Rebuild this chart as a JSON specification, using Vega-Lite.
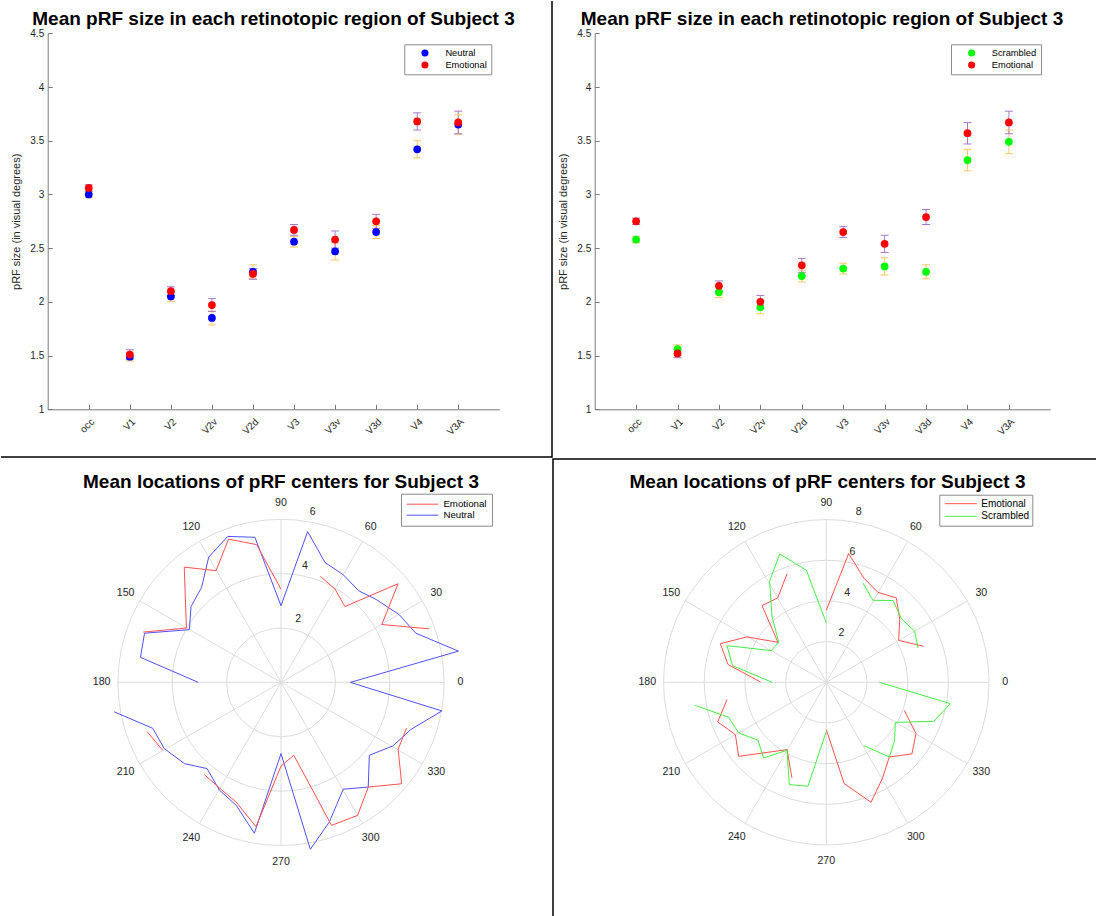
{
  "padding": 0,
  "spacing": 0,
  "config": {
    "font": "Liberation Sans",
    "view": {"stroke": null},
    "title": {"fontSize": 19, "fontWeight": "bold", "color": "black", "anchor": "middle", "frame": "group", "baseline": "alphabetic"},
    "axis": {"labelFontSize": 10, "titleFontSize": 11, "titleFontWeight": "normal", "labelColor": "#262626", "titleColor": "#262626", "domainColor": "#7a7a7a", "tickColor": "#7a7a7a", "grid": false, "labelFlush": false, "labelOverlap": false},
    "legend": {"strokeColor": "#8c8c8c", "fillColor": "white", "labelColor": "black"}
  },
  "vconcat": [
    {
      "spacing": 0,
      "resolve": {"scale": {"color": "independent"}},
      "hconcat": [
        {
          "width": 551,
          "height": 456,
          "view": {"stroke": "black", "strokeWidth": 1.5, "strokeDash": [1007, 1007], "strokeDashOffset": 1463},
          "title": {"text": "Mean pRF size in each retinotopic region of Subject 3", "offset": -28, "dx": -3},
          "data": {"values": [
            {"region": "occ", "group": "Neutral", "mean": 3.00, "lo": 2.97, "hi": 3.03},
            {"region": "V1", "group": "Neutral", "mean": 1.49, "lo": 1.45, "hi": 1.53},
            {"region": "V2", "group": "Neutral", "mean": 2.05, "lo": 2.005, "hi": 2.095},
            {"region": "V2v", "group": "Neutral", "mean": 1.85, "lo": 1.785, "hi": 1.915},
            {"region": "V2d", "group": "Neutral", "mean": 2.28, "lo": 2.215, "hi": 2.345},
            {"region": "V3", "group": "Neutral", "mean": 2.56, "lo": 2.51, "hi": 2.61},
            {"region": "V3v", "group": "Neutral", "mean": 2.47, "lo": 2.39, "hi": 2.55},
            {"region": "V3d", "group": "Neutral", "mean": 2.65, "lo": 2.59, "hi": 2.71},
            {"region": "V4", "group": "Neutral", "mean": 3.42, "lo": 3.34, "hi": 3.50},
            {"region": "V3A", "group": "Neutral", "mean": 3.65, "lo": 3.56, "hi": 3.74},
            {"region": "occ", "group": "Emotional", "mean": 3.06, "lo": 3.03, "hi": 3.09},
            {"region": "V1", "group": "Emotional", "mean": 1.51, "lo": 1.465, "hi": 1.555},
            {"region": "V2", "group": "Emotional", "mean": 2.10, "lo": 2.06, "hi": 2.14},
            {"region": "V2v", "group": "Emotional", "mean": 1.97, "lo": 1.91, "hi": 2.03},
            {"region": "V2d", "group": "Emotional", "mean": 2.26, "lo": 2.21, "hi": 2.31},
            {"region": "V3", "group": "Emotional", "mean": 2.67, "lo": 2.62, "hi": 2.72},
            {"region": "V3v", "group": "Emotional", "mean": 2.58, "lo": 2.50, "hi": 2.66},
            {"region": "V3d", "group": "Emotional", "mean": 2.75, "lo": 2.685, "hi": 2.815},
            {"region": "V4", "group": "Emotional", "mean": 3.68, "lo": 3.60, "hi": 3.76},
            {"region": "V3A", "group": "Emotional", "mean": 3.67, "lo": 3.565, "hi": 3.775}
          ]},
          "layer": [
            {"transform": [{"filter": {"field": "group", "equal": "Neutral"}}],
             "mark": {"type": "rule", "strokeWidth": 1, "color": "#F5C864"},
             "encoding": {
               "x": {"field": "region", "type": "ordinal",
                 "scale": {"type": "point", "domain": ["occ", "V1", "V2", "V2v", "V2d", "V3", "V3v", "V3d", "V4", "V3A"], "range": [46.7, 498.3], "padding": 1},
                 "axis": {"offset": -47.7, "title": null, "labelAngle": -45, "labelAlign": "right", "labelBaseline": "top", "ticks": false, "labelPadding": 7}},
               "y": {"field": "lo", "type": "quantitative", "title": "pRF size (in visual degrees)",
                 "scale": {"domain": [1, 4.5], "range": [408.3, 32.3], "nice": false, "zero": false},
                 "axis": {"offset": -46.7, "values": [1, 1.5, 2, 2.5, 3, 3.5, 4, 4.5], "format": "~g", "ticks": false, "labelPadding": 4, "titlePadding": 8}},
               "y2": {"field": "hi"}}},
            {"transform": [{"filter": {"field": "group", "equal": "Emotional"}}],
             "mark": {"type": "rule", "strokeWidth": 1, "color": "#AA78C8"},
             "encoding": {
               "x": {"field": "region", "type": "ordinal", "axis": null},
               "y": {"field": "lo", "type": "quantitative", "axis": null},
               "y2": {"field": "hi"}}},
            {"transform": [{"filter": {"field": "group", "equal": "Neutral"}}],
             "mark": {"type": "tick", "size": 8, "thickness": 1, "opacity": 1, "color": "#F5C864"},
             "encoding": {
               "x": {"field": "region", "type": "ordinal", "axis": null},
               "y": {"field": "lo", "type": "quantitative", "axis": null}}},
            {"transform": [{"filter": {"field": "group", "equal": "Neutral"}}],
             "mark": {"type": "tick", "size": 8, "thickness": 1, "opacity": 1, "color": "#F5C864"},
             "encoding": {
               "x": {"field": "region", "type": "ordinal", "axis": null},
               "y": {"field": "hi", "type": "quantitative", "axis": null}}},
            {"transform": [{"filter": {"field": "group", "equal": "Emotional"}}],
             "mark": {"type": "tick", "size": 8, "thickness": 1, "opacity": 1, "color": "#AA78C8"},
             "encoding": {
               "x": {"field": "region", "type": "ordinal", "axis": null},
               "y": {"field": "lo", "type": "quantitative", "axis": null}}},
            {"transform": [{"filter": {"field": "group", "equal": "Emotional"}}],
             "mark": {"type": "tick", "size": 8, "thickness": 1, "opacity": 1, "color": "#AA78C8"},
             "encoding": {
               "x": {"field": "region", "type": "ordinal", "axis": null},
               "y": {"field": "hi", "type": "quantitative", "axis": null}}},
            {"mark": {"type": "point", "filled": true, "size": 60, "opacity": 1},
             "encoding": {
               "x": {"field": "region", "type": "ordinal",
                 "axis": {"orient": "top", "offset": -408.3, "title": null, "labels": false, "domain": false, "ticks": true, "tickSize": 5}},
               "y": {"field": "mean", "type": "quantitative",
                 "axis": {"orient": "right", "offset": -504.3, "title": null, "labels": false, "domain": false, "ticks": true, "tickSize": 4.5, "values": [1, 1.5, 2, 2.5, 3, 3.5, 4, 4.5]}},
               "color": {"field": "group", "type": "nominal", "scale": {"domain": ["Neutral", "Emotional"], "range": ["#0000FF", "#FF0000"]},
                 "legend": {"title": null, "orient": "none", "legendX": 403.3, "legendY": 43.3, "padding": 4, "symbolType": "circle", "symbolSize": 50, "symbolOffset": 12, "labelOffset": 15.8, "rowPadding": 2, "labelFontSize": 9.3}}}}
          ],
          "resolve": {"axis": {"x": "independent", "y": "independent"}}
        },
        {
          "width": 545,
          "height": 456,
          "title": {"text": "Mean pRF size in each retinotopic region of Subject 3", "offset": -28, "dx": -3.5},
          "data": {"values": [
            {"region": "occ", "group": "Scrambled", "mean": 2.58, "lo": 2.55, "hi": 2.61},
            {"region": "V1", "group": "Scrambled", "mean": 1.56, "lo": 1.52, "hi": 1.60},
            {"region": "V2", "group": "Scrambled", "mean": 2.09, "lo": 2.04, "hi": 2.14},
            {"region": "V2v", "group": "Scrambled", "mean": 1.95, "lo": 1.89, "hi": 2.01},
            {"region": "V2d", "group": "Scrambled", "mean": 2.24, "lo": 2.185, "hi": 2.295},
            {"region": "V3", "group": "Scrambled", "mean": 2.31, "lo": 2.26, "hi": 2.36},
            {"region": "V3v", "group": "Scrambled", "mean": 2.33, "lo": 2.25, "hi": 2.41},
            {"region": "V3d", "group": "Scrambled", "mean": 2.28, "lo": 2.215, "hi": 2.345},
            {"region": "V4", "group": "Scrambled", "mean": 3.32, "lo": 3.22, "hi": 3.42},
            {"region": "V3A", "group": "Scrambled", "mean": 3.49, "lo": 3.38, "hi": 3.60},
            {"region": "occ", "group": "Emotional", "mean": 2.75, "lo": 2.72, "hi": 2.78},
            {"region": "V1", "group": "Emotional", "mean": 1.52, "lo": 1.48, "hi": 1.56},
            {"region": "V2", "group": "Emotional", "mean": 2.15, "lo": 2.105, "hi": 2.195},
            {"region": "V2v", "group": "Emotional", "mean": 2.00, "lo": 1.94, "hi": 2.06},
            {"region": "V2d", "group": "Emotional", "mean": 2.34, "lo": 2.275, "hi": 2.405},
            {"region": "V3", "group": "Emotional", "mean": 2.65, "lo": 2.60, "hi": 2.70},
            {"region": "V3v", "group": "Emotional", "mean": 2.54, "lo": 2.46, "hi": 2.62},
            {"region": "V3d", "group": "Emotional", "mean": 2.79, "lo": 2.72, "hi": 2.86},
            {"region": "V4", "group": "Emotional", "mean": 3.57, "lo": 3.47, "hi": 3.67},
            {"region": "V3A", "group": "Emotional", "mean": 3.67, "lo": 3.565, "hi": 3.775}
          ]},
          "layer": [
            {"transform": [{"filter": {"field": "group", "equal": "Scrambled"}}],
             "mark": {"type": "rule", "strokeWidth": 1, "color": "#F5C864"},
             "encoding": {
               "x": {"field": "region", "type": "ordinal",
                 "scale": {"type": "point", "domain": ["occ", "V1", "V2", "V2v", "V2d", "V3", "V3v", "V3d", "V4", "V3A"], "range": [41.7, 497.3], "padding": 1},
                 "axis": {"offset": -47.7, "title": null, "labelAngle": -45, "labelAlign": "right", "labelBaseline": "top", "ticks": false, "labelPadding": 7}},
               "y": {"field": "lo", "type": "quantitative", "title": "pRF size (in visual degrees)",
                 "scale": {"domain": [1, 4.5], "range": [408.3, 32.3], "nice": false, "zero": false},
                 "axis": {"offset": -41.7, "values": [1, 1.5, 2, 2.5, 3, 3.5, 4, 4.5], "format": "~g", "ticks": false, "labelPadding": 4, "titlePadding": 8}},
               "y2": {"field": "hi"}}},
            {"transform": [{"filter": {"field": "group", "equal": "Emotional"}}],
             "mark": {"type": "rule", "strokeWidth": 1, "color": "#AA78C8"},
             "encoding": {
               "x": {"field": "region", "type": "ordinal", "axis": null},
               "y": {"field": "lo", "type": "quantitative", "axis": null},
               "y2": {"field": "hi"}}},
            {"transform": [{"filter": {"field": "group", "equal": "Scrambled"}}],
             "mark": {"type": "tick", "size": 8, "thickness": 1, "opacity": 1, "color": "#F5C864"},
             "encoding": {
               "x": {"field": "region", "type": "ordinal", "axis": null},
               "y": {"field": "lo", "type": "quantitative", "axis": null}}},
            {"transform": [{"filter": {"field": "group", "equal": "Scrambled"}}],
             "mark": {"type": "tick", "size": 8, "thickness": 1, "opacity": 1, "color": "#F5C864"},
             "encoding": {
               "x": {"field": "region", "type": "ordinal", "axis": null},
               "y": {"field": "hi", "type": "quantitative", "axis": null}}},
            {"transform": [{"filter": {"field": "group", "equal": "Emotional"}}],
             "mark": {"type": "tick", "size": 8, "thickness": 1, "opacity": 1, "color": "#AA78C8"},
             "encoding": {
               "x": {"field": "region", "type": "ordinal", "axis": null},
               "y": {"field": "lo", "type": "quantitative", "axis": null}}},
            {"transform": [{"filter": {"field": "group", "equal": "Emotional"}}],
             "mark": {"type": "tick", "size": 8, "thickness": 1, "opacity": 1, "color": "#AA78C8"},
             "encoding": {
               "x": {"field": "region", "type": "ordinal", "axis": null},
               "y": {"field": "hi", "type": "quantitative", "axis": null}}},
            {"mark": {"type": "point", "filled": true, "size": 60, "opacity": 1},
             "encoding": {
               "x": {"field": "region", "type": "ordinal",
                 "axis": {"orient": "top", "offset": -408.3, "title": null, "labels": false, "domain": false, "ticks": true, "tickSize": 5}},
               "y": {"field": "mean", "type": "quantitative",
                 "axis": {"orient": "right", "offset": -503.3, "title": null, "labels": false, "domain": false, "ticks": true, "tickSize": 4.5, "values": [1, 1.5, 2, 2.5, 3, 3.5, 4, 4.5]}},
               "color": {"field": "group", "type": "nominal", "scale": {"domain": ["Scrambled", "Emotional"], "range": ["#00FF00", "#FF0000"]},
                 "legend": {"title": null, "orient": "none", "legendX": 398, "legendY": 43.3, "padding": 4, "symbolType": "circle", "symbolSize": 50, "symbolOffset": 12, "labelOffset": 15.4, "rowPadding": 2, "labelFontSize": 9.3}}}}
          ],
          "resolve": {"axis": {"x": "independent", "y": "independent"}}
        }
      ]
    },
    {
      "spacing": 0,
      "resolve": {"scale": {"color": "independent", "size": "independent"}},
      "hconcat": [
        {
          "width": 551,
          "height": 460,
          "title": {"text": "Mean locations of pRF centers for Subject 3", "offset": -33, "dx": 4.5},
          "layer": [
            {"data": {"values": [{"cx": 0, "cy": 0, "r": 2}, {"cx": 0, "cy": 0, "r": 4}, {"cx": 0, "cy": 0, "r": 6}]},
             "mark": {"type": "point", "filled": false, "color": "#dddddd", "strokeWidth": 1, "opacity": 1},
             "encoding": {
               "x": {"field": "cx", "type": "quantitative", "scale": {"domain": [-10.302, 9.971], "nice": false, "zero": false}, "axis": null},
               "y": {"field": "cy", "type": "quantitative", "scale": {"domain": [-8.705, 8.219], "nice": false, "zero": false}, "axis": null},
               "size": {"field": "r", "type": "quantitative", "scale": {"type": "pow", "exponent": 2, "domain": [0, 6], "range": [0, 106391]}, "legend": null}}},
            {"data": {"values": [
              {"x1": -6, "y1": 0, "x2": 6, "y2": 0},
              {"x1": -5.196, "y1": -3, "x2": 5.196, "y2": 3},
              {"x1": -3, "y1": -5.196, "x2": 3, "y2": 5.196},
              {"x1": 0, "y1": -6, "x2": 0, "y2": 6},
              {"x1": 3, "y1": -5.196, "x2": -3, "y2": 5.196},
              {"x1": 5.196, "y1": -3, "x2": -5.196, "y2": 3}
             ]},
             "mark": {"type": "rule", "color": "#dddddd", "strokeWidth": 1},
             "encoding": {
               "x": {"field": "x1", "type": "quantitative", "axis": null},
               "y": {"field": "y1", "type": "quantitative", "axis": null},
               "x2": {"field": "x2"},
               "y2": {"field": "y2"}}},
            {"data": {"values": [
              {"label": "0", "x": 6.6, "y": 0},
              {"label": "30", "x": 5.716, "y": 3.3},
              {"label": "60", "x": 3.3, "y": 5.716},
              {"label": "90", "x": 0, "y": 6.6},
              {"label": "120", "x": -3.3, "y": 5.716},
              {"label": "150", "x": -5.716, "y": 3.3},
              {"label": "180", "x": -6.6, "y": 0},
              {"label": "210", "x": -5.716, "y": -3.3},
              {"label": "240", "x": -3.3, "y": -5.716},
              {"label": "270", "x": 0, "y": -6.6},
              {"label": "300", "x": 3.3, "y": -5.716},
              {"label": "330", "x": 5.716, "y": -3.3},
              {"label": "2", "x": 0.63, "y": 2.32},
              {"label": "4", "x": 0.88, "y": 4.29},
              {"label": "6", "x": 1.17, "y": 6.27}
             ]},
             "mark": {"type": "text", "fontSize": 10.6, "color": "#262626", "align": "center", "baseline": "middle"},
             "encoding": {
               "x": {"field": "x", "type": "quantitative", "axis": null},
               "y": {"field": "y", "type": "quantitative", "axis": null},
               "text": {"field": "label", "type": "nominal"}}},
            {"data": {"values": [
              {"series": "Neutral", "seg": "N1", "i": 0, "x": -3.04, "y": 0},
              {"series": "Neutral", "seg": "N1", "i": 1, "x": -5.17, "y": 0.92},
              {"series": "Neutral", "seg": "N1", "i": 2, "x": -5.02, "y": 1.81},
              {"series": "Neutral", "seg": "N1", "i": 3, "x": -3.37, "y": 1.94},
              {"series": "Neutral", "seg": "N1", "i": 4, "x": -3.31, "y": 2.79},
              {"series": "Neutral", "seg": "N1", "i": 5, "x": -2.92, "y": 3.50},
              {"series": "Neutral", "seg": "N1", "i": 6, "x": -2.66, "y": 4.61},
              {"series": "Neutral", "seg": "N1", "i": 7, "x": -1.96, "y": 5.37},
              {"series": "Neutral", "seg": "N1", "i": 8, "x": -0.96, "y": 5.34},
              {"series": "Neutral", "seg": "N1", "i": 9, "x": 0, "y": 2.82},
              {"series": "Neutral", "seg": "N1", "i": 10, "x": 0.98, "y": 5.55},
              {"series": "Neutral", "seg": "N1", "i": 11, "x": 1.62, "y": 4.41},
              {"series": "Neutral", "seg": "N1", "i": 12, "x": 2.29, "y": 3.96},
              {"series": "Neutral", "seg": "N1", "i": 13, "x": 2.86, "y": 3.37},
              {"series": "Neutral", "seg": "N1", "i": 14, "x": 3.52, "y": 3.04},
              {"series": "Neutral", "seg": "N1", "i": 15, "x": 4.35, "y": 2.49},
              {"series": "Neutral", "seg": "N1", "i": 16, "x": 4.96, "y": 1.81},
              {"series": "Neutral", "seg": "N1", "i": 17, "x": 6.53, "y": 1.15},
              {"series": "Neutral", "seg": "N1", "i": 18, "x": 2.55, "y": 0},
              {"series": "Neutral", "seg": "N1", "i": 19, "x": 5.92, "y": -1.05},
              {"series": "Neutral", "seg": "N1", "i": 20, "x": 4.78, "y": -1.73},
              {"series": "Neutral", "seg": "N1", "i": 21, "x": 4.11, "y": -2.34},
              {"series": "Neutral", "seg": "N1", "i": 22, "x": 3.25, "y": -2.68},
              {"series": "Neutral", "seg": "N1", "i": 23, "x": 3.21, "y": -3.85},
              {"series": "Neutral", "seg": "N1", "i": 24, "x": 2.29, "y": -3.93},
              {"series": "Neutral", "seg": "N1", "i": 25, "x": 1.78, "y": -5.13},
              {"series": "Neutral", "seg": "N1", "i": 26, "x": 1.08, "y": -6.14},
              {"series": "Neutral", "seg": "N1", "i": 27, "x": 0, "y": -2.62},
              {"series": "Neutral", "seg": "N1", "i": 28, "x": -0.98, "y": -5.55},
              {"series": "Neutral", "seg": "N1", "i": 29, "x": -1.65, "y": -4.52},
              {"series": "Neutral", "seg": "N1", "i": 30, "x": -2.27, "y": -3.96},
              {"series": "Neutral", "seg": "N1", "i": 31, "x": -2.72, "y": -3.17},
              {"series": "Neutral", "seg": "N1", "i": 32, "x": -3.55, "y": -2.99},
              {"series": "Neutral", "seg": "N1", "i": 33, "x": -4.29, "y": -2.44},
              {"series": "Neutral", "seg": "N1", "i": 34, "x": -4.72, "y": -1.69},
              {"series": "Neutral", "seg": "N1", "i": 35, "x": -6.14, "y": -1.08},
              {"series": "Emotional", "seg": "E1", "i": 0, "x": 0, "y": 3.43},
              {"series": "Emotional", "seg": "E1", "i": 1, "x": -0.9, "y": 5.07},
              {"series": "Emotional", "seg": "E1", "i": 2, "x": -1.93, "y": 5.27},
              {"series": "Emotional", "seg": "E1", "i": 3, "x": -2.39, "y": 4.11},
              {"series": "Emotional", "seg": "E1", "i": 4, "x": -3.56, "y": 4.24},
              {"series": "Emotional", "seg": "E1", "i": 5, "x": -3.48, "y": 2.00},
              {"series": "Emotional", "seg": "E1", "i": 6, "x": -5.07, "y": 1.85},
              {"series": "Emotional", "seg": "E2", "i": 0, "x": 1.45, "y": 3.90},
              {"series": "Emotional", "seg": "E2", "i": 1, "x": 1.99, "y": 3.43},
              {"series": "Emotional", "seg": "E2", "i": 2, "x": 2.35, "y": 2.79},
              {"series": "Emotional", "seg": "E2", "i": 3, "x": 4.31, "y": 3.63},
              {"series": "Emotional", "seg": "E2", "i": 4, "x": 3.71, "y": 2.13},
              {"series": "Emotional", "seg": "E2", "i": 5, "x": 5.45, "y": 1.97},
              {"series": "Emotional", "seg": "E3", "i": 0, "x": -4.93, "y": -1.81},
              {"series": "Emotional", "seg": "E3", "i": 1, "x": -4.35, "y": -2.50},
              {"series": "Emotional", "seg": "E4", "i": 0, "x": -2.82, "y": -3.39},
              {"series": "Emotional", "seg": "E4", "i": 1, "x": -2.27, "y": -3.88},
              {"series": "Emotional", "seg": "E4", "i": 2, "x": -1.65, "y": -4.40},
              {"series": "Emotional", "seg": "E4", "i": 3, "x": -0.92, "y": -5.31},
              {"series": "Emotional", "seg": "E4", "i": 4, "x": 0, "y": -3.08},
              {"series": "Emotional", "seg": "E4", "i": 5, "x": 0.47, "y": -2.68},
              {"series": "Emotional", "seg": "E4", "i": 6, "x": 1.86, "y": -5.26},
              {"series": "Emotional", "seg": "E4", "i": 7, "x": 2.82, "y": -4.89},
              {"series": "Emotional", "seg": "E4", "i": 8, "x": 3.21, "y": -3.85},
              {"series": "Emotional", "seg": "E4", "i": 9, "x": 4.44, "y": -3.73},
              {"series": "Emotional", "seg": "E4", "i": 10, "x": 4.31, "y": -2.46},
              {"series": "Emotional", "seg": "E4", "i": 11, "x": 4.62, "y": -1.68}
             ]},
             "mark": {"type": "line", "strokeWidth": 1},
             "encoding": {
               "x": {"field": "x", "type": "quantitative", "axis": null},
               "y": {"field": "y", "type": "quantitative", "axis": null},
               "detail": {"field": "seg", "type": "nominal"},
               "order": {"field": "i", "type": "quantitative"},
               "color": {"field": "series", "type": "nominal", "scale": {"domain": ["Emotional", "Neutral"], "range": ["#ff5050", "#5050ff"]},
                 "legend": {"title": null, "orient": "none", "legendX": 400, "legendY": 34.7, "padding": 5, "symbolType": "stroke", "symbolSize": 1000, "symbolStrokeWidth": 1, "symbolOffset": 0, "labelOffset": 4.4, "clipHeight": 11, "rowPadding": 0, "labelFontSize": 9.7}}}}
          ]
        },
        {
          "width": 545,
          "height": 460,
          "view": {"stroke": "black", "strokeWidth": 1.5, "strokeDash": [1005, 1005], "strokeDashOffset": 460},
          "title": {"text": "Mean locations of pRF centers for Subject 3", "offset": -33, "dx": 2},
          "layer": [
            {"data": {"values": [{"cx": 0, "cy": 0, "r": 2}, {"cx": 0, "cy": 0, "r": 4}, {"cx": 0, "cy": 0, "r": 6}, {"cx": 0, "cy": 0, "r": 8}]},
             "mark": {"type": "point", "filled": false, "color": "#dddddd", "strokeWidth": 1, "opacity": 1},
             "encoding": {
               "x": {"field": "cx", "type": "quantitative", "scale": {"domain": [-13.437, 13.358], "nice": false, "zero": false}, "axis": null},
               "y": {"field": "cy", "type": "quantitative", "scale": {"domain": [-11.637, 10.978], "nice": false, "zero": false}, "axis": null},
               "size": {"field": "r", "type": "quantitative", "scale": {"type": "pow", "exponent": 2, "domain": [0, 8], "range": [0, 105910]}, "legend": null}}},
            {"data": {"values": [
              {"x1": -8, "y1": 0, "x2": 8, "y2": 0},
              {"x1": -6.928, "y1": -4, "x2": 6.928, "y2": 4},
              {"x1": -4, "y1": -6.928, "x2": 4, "y2": 6.928},
              {"x1": 0, "y1": -8, "x2": 0, "y2": 8},
              {"x1": 4, "y1": -6.928, "x2": -4, "y2": 6.928},
              {"x1": 6.928, "y1": -4, "x2": -6.928, "y2": 4}
             ]},
             "mark": {"type": "rule", "color": "#dddddd", "strokeWidth": 1},
             "encoding": {
               "x": {"field": "x1", "type": "quantitative", "axis": null},
               "y": {"field": "y1", "type": "quantitative", "axis": null},
               "x2": {"field": "x2"},
               "y2": {"field": "y2"}}},
            {"data": {"values": [
              {"label": "0", "x": 8.8, "y": 0},
              {"label": "30", "x": 7.621, "y": 4.4},
              {"label": "60", "x": 4.4, "y": 7.621},
              {"label": "90", "x": 0, "y": 8.8},
              {"label": "120", "x": -4.4, "y": 7.621},
              {"label": "150", "x": -7.621, "y": 4.4},
              {"label": "180", "x": -8.8, "y": 0},
              {"label": "210", "x": -7.621, "y": -4.4},
              {"label": "240", "x": -4.4, "y": -7.621},
              {"label": "270", "x": 0, "y": -8.8},
              {"label": "300", "x": 4.4, "y": -7.621},
              {"label": "330", "x": 7.621, "y": -4.4},
              {"label": "2", "x": 0.74, "y": 2.43},
              {"label": "4", "x": 1.03, "y": 4.39},
              {"label": "6", "x": 1.29, "y": 6.39},
              {"label": "8", "x": 1.59, "y": 8.36}
             ]},
             "mark": {"type": "text", "fontSize": 10.6, "color": "#262626", "align": "center", "baseline": "middle"},
             "encoding": {
               "x": {"field": "x", "type": "quantitative", "axis": null},
               "y": {"field": "y", "type": "quantitative", "axis": null},
               "text": {"field": "label", "type": "nominal"}}},
            {"data": {"values": [
              {"series": "Emotional", "seg": "E1", "i": 0, "x": 0, "y": 3.54},
              {"series": "Emotional", "seg": "E1", "i": 1, "x": 1.10, "y": 6.33},
              {"series": "Emotional", "seg": "E1", "i": 2, "x": 1.84, "y": 5.13},
              {"series": "Emotional", "seg": "E1", "i": 3, "x": 2.54, "y": 4.42},
              {"series": "Emotional", "seg": "E1", "i": 4, "x": 3.44, "y": 4.15},
              {"series": "Emotional", "seg": "E1", "i": 5, "x": 3.61, "y": 3.11},
              {"series": "Emotional", "seg": "E1", "i": 6, "x": 3.56, "y": 2.06},
              {"series": "Emotional", "seg": "E1", "i": 7, "x": 4.79, "y": 1.77},
              {"series": "Emotional", "seg": "E2", "i": 0, "x": -1.93, "y": 5.34},
              {"series": "Emotional", "seg": "E2", "i": 1, "x": -2.39, "y": 4.15},
              {"series": "Emotional", "seg": "E2", "i": 2, "x": -3.16, "y": 3.77},
              {"series": "Emotional", "seg": "E2", "i": 3, "x": -2.38, "y": 1.97},
              {"series": "Emotional", "seg": "E2", "i": 4, "x": -3.90, "y": 2.23},
              {"series": "Emotional", "seg": "E2", "i": 5, "x": -5.21, "y": 1.90},
              {"series": "Emotional", "seg": "E2", "i": 6, "x": -4.83, "y": 0.87},
              {"series": "Emotional", "seg": "E2", "i": 7, "x": -3.24, "y": 0.02},
              {"series": "Emotional", "seg": "E3", "i": 0, "x": -4.88, "y": -0.85},
              {"series": "Emotional", "seg": "E3", "i": 1, "x": -5.34, "y": -1.95},
              {"series": "Emotional", "seg": "E3", "i": 2, "x": -4.47, "y": -2.57},
              {"series": "Emotional", "seg": "E3", "i": 3, "x": -4.31, "y": -3.64},
              {"series": "Emotional", "seg": "E3", "i": 4, "x": -1.93, "y": -3.31},
              {"series": "Emotional", "seg": "E3", "i": 5, "x": -1.69, "y": -4.70},
              {"series": "Emotional", "seg": "E4", "i": 0, "x": 0, "y": -2.33},
              {"series": "Emotional", "seg": "E4", "i": 1, "x": 0.88, "y": -4.98},
              {"series": "Emotional", "seg": "E4", "i": 2, "x": 2.20, "y": -5.90},
              {"series": "Emotional", "seg": "E4", "i": 3, "x": 2.77, "y": -4.70},
              {"series": "Emotional", "seg": "E4", "i": 4, "x": 3.10, "y": -3.67},
              {"series": "Emotional", "seg": "E4", "i": 5, "x": 4.21, "y": -3.52},
              {"series": "Emotional", "seg": "E4", "i": 6, "x": 4.41, "y": -2.52},
              {"series": "Emotional", "seg": "E4", "i": 7, "x": 3.83, "y": -1.38},
              {"series": "Scrambled", "seg": "S1", "i": 0, "x": 0, "y": 2.92},
              {"series": "Scrambled", "seg": "S1", "i": 1, "x": -0.98, "y": 5.51},
              {"series": "Scrambled", "seg": "S1", "i": 2, "x": -2.29, "y": 6.31},
              {"series": "Scrambled", "seg": "S1", "i": 3, "x": -2.79, "y": 4.97},
              {"series": "Scrambled", "seg": "S1", "i": 4, "x": -2.67, "y": 3.24},
              {"series": "Scrambled", "seg": "S1", "i": 5, "x": -2.34, "y": 1.97},
              {"series": "Scrambled", "seg": "S1", "i": 6, "x": -2.70, "y": 1.56},
              {"series": "Scrambled", "seg": "S1", "i": 7, "x": -4.88, "y": 1.80},
              {"series": "Scrambled", "seg": "S1", "i": 8, "x": -4.61, "y": 0.82},
              {"series": "Scrambled", "seg": "S1", "i": 9, "x": -2.67, "y": 0},
              {"series": "Scrambled", "seg": "S2", "i": 0, "x": 1.80, "y": 4.88},
              {"series": "Scrambled", "seg": "S2", "i": 1, "x": 2.29, "y": 4.03},
              {"series": "Scrambled", "seg": "S2", "i": 2, "x": 3.28, "y": 4.02},
              {"series": "Scrambled", "seg": "S2", "i": 3, "x": 3.69, "y": 3.13},
              {"series": "Scrambled", "seg": "S2", "i": 4, "x": 4.34, "y": 2.51},
              {"series": "Scrambled", "seg": "S2", "i": 5, "x": 4.51, "y": 1.69},
              {"series": "Scrambled", "seg": "S3", "i": 0, "x": 2.61, "y": 0},
              {"series": "Scrambled", "seg": "S3", "i": 1, "x": 6.10, "y": -1.05},
              {"series": "Scrambled", "seg": "S3", "i": 2, "x": 5.28, "y": -1.92},
              {"series": "Scrambled", "seg": "S3", "i": 3, "x": 3.39, "y": -1.97},
              {"series": "Scrambled", "seg": "S3", "i": 4, "x": 3.36, "y": -2.85},
              {"series": "Scrambled", "seg": "S3", "i": 5, "x": 3.10, "y": -3.67},
              {"series": "Scrambled", "seg": "S3", "i": 6, "x": 1.84, "y": -3.11},
              {"series": "Scrambled", "seg": "S4", "i": 0, "x": -6.47, "y": -1.13},
              {"series": "Scrambled", "seg": "S4", "i": 1, "x": -4.80, "y": -1.72},
              {"series": "Scrambled", "seg": "S4", "i": 2, "x": -4.31, "y": -2.49},
              {"series": "Scrambled", "seg": "S4", "i": 3, "x": -3.36, "y": -2.85},
              {"series": "Scrambled", "seg": "S4", "i": 4, "x": -3.08, "y": -3.72},
              {"series": "Scrambled", "seg": "S4", "i": 5, "x": -1.93, "y": -3.34},
              {"series": "Scrambled", "seg": "S4", "i": 6, "x": -1.82, "y": -5.03},
              {"series": "Scrambled", "seg": "S4", "i": 7, "x": -0.90, "y": -5.11},
              {"series": "Scrambled", "seg": "S4", "i": 8, "x": 0, "y": -2.41}
             ]},
             "mark": {"type": "line", "strokeWidth": 1},
             "encoding": {
               "x": {"field": "x", "type": "quantitative", "axis": null},
               "y": {"field": "y", "type": "quantitative", "axis": null},
               "detail": {"field": "seg", "type": "nominal"},
               "order": {"field": "i", "type": "quantitative"},
               "color": {"field": "series", "type": "nominal", "scale": {"domain": ["Emotional", "Scrambled"], "range": ["#ff5050", "#44ee44"]},
                 "legend": {"title": null, "orient": "none", "legendX": 386.3, "legendY": 35.7, "padding": 3, "symbolType": "stroke", "symbolSize": 1024, "symbolStrokeWidth": 1, "symbolOffset": 2, "labelOffset": 4, "clipHeight": 12, "rowPadding": 0.6, "labelFontSize": 10}}}}
          ]
        }
      ]
    }
  ],
  "resolve": {"scale": {"color": "independent", "size": "independent"}}
}
